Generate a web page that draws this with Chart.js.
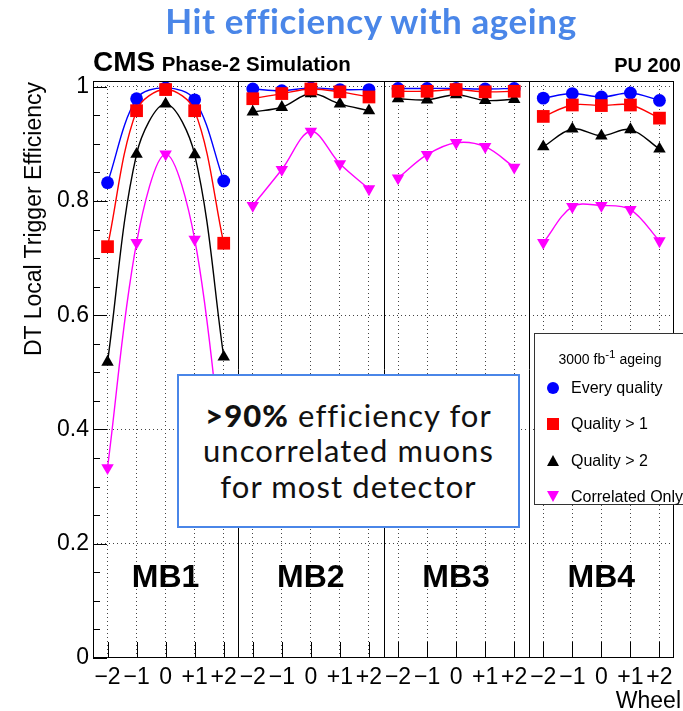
<!DOCTYPE html>
<html>
<head>
<meta charset="utf-8">
<script src="https://cdn.jsdelivr.net/npm/chart.js@4.4.1/dist/chart.umd.min.js"></script>
<style>
  html, body { margin: 0; padding: 0; background: #fff; }
  #wrap { position: relative; width: 683px; height: 711px; overflow: hidden; font-family: "Liberation Sans", Arial, sans-serif; color: #000; }
  #chart { position: absolute; left: 0; top: 0; }
  .abs { position: absolute; white-space: nowrap; }
  #title { left: 0; width: 742px; top: 0px; text-align: center; font: bold 35px/40px Lato, "Open Sans", sans-serif; letter-spacing: 0.6px; color: #4a86e8; }
  #cms { left: 93px; top: 48px; line-height: 28px; font-weight: bold; }
  #cms .big { font-size: 28px; }
  #cms .small { font-size: 20.5px; margin-left: 2px; }
  #pu { right: 2px; top: 55px; font: bold 20px/20px "Liberation Sans", Arial, sans-serif; }
  #ytitle { left: 19px; top: 362px; width: 280px; height: 28px; text-align: right; font: 23px/28px "Liberation Sans", Arial, sans-serif; transform-origin: top left; transform: rotate(-90deg); }
  #wheel { right: 2px; top: 689px; font: 23px/23px "Liberation Sans", Arial, sans-serif; }
  #note { left: 177px; top: 374px; width: 343px; height: 154px; box-sizing: border-box; border: 2px solid #4a86e8; background: #fff; display: flex; flex-direction: column; justify-content: center; align-items: center; font: 31px/35.5px Lato, "Open Sans", sans-serif; letter-spacing: 1.1px; color: #111; }
  #note b { font-weight: 900; }
  #legend { left: 534px; top: 333px; width: 152px; height: 172px; box-sizing: border-box; border: 1px solid #333; background: #fff; }
  #legend .lt { position: absolute; left: 0; width: 150px; top: 10px; text-align: center; font-size: 14px; line-height: 20px; }
  #legend .row { position: absolute; left: 36px; font-size: 16px; line-height: 20px; }
  #legend .mk { position: absolute; }
</style>
</head>
<body>
<div id="wrap">
  <canvas id="chart" width="683" height="711"></canvas>
  <div class="abs" id="title">Hit efficiency with ageing</div>
  <div class="abs" id="cms"><span class="big">CMS</span> <span class="small">Phase-2 Simulation</span></div>
  <div class="abs" id="pu">PU 200</div>
  <div class="abs" id="ytitle">DT Local Trigger Efficiency</div>
  <div class="abs" id="wheel">Wheel</div>
  <div class="abs" id="legend"></div>
  <div class="abs" id="note">
    <div><b>&gt;90%</b> efficiency for</div>
    <div>uncorrelated muons</div>
    <div>for most detector</div>
  </div>
</div>
<script>
// wheels and stations
const wheelLabels = ['\u22122', '\u22121', '0', '+1', '+2'];
const stations = ['MB1', 'MB2', 'MB3', 'MB4'];
const yLabels = ['0', '0.2', '0.4', '0.6', '0.8', '1'];
const legendTitle = '3000 fb<sup>-1</sup> ageing';

// efficiency per station (rows) and wheel (columns)
const everyQuality = [
    [0.832, 0.979, 0.998, 0.977, 0.835],
    [0.996, 0.993, 0.998, 0.995, 0.995],
    [0.997, 0.997, 0.997, 0.996, 0.997],
    [0.980, 0.988, 0.982, 0.989, 0.976]
];
const qualityGt1 = [
    [0.720, 0.958, 0.995, 0.958, 0.726],
    [0.979, 0.988, 0.996, 0.991, 0.982],
    [0.992, 0.992, 0.995, 0.991, 0.992],
    [0.948, 0.968, 0.967, 0.968, 0.945]
];
const qualityGt2 = [
    [0.518, 0.882, 0.970, 0.881, 0.527],
    [0.956, 0.964, 0.988, 0.970, 0.958],
    [0.979, 0.977, 0.986, 0.976, 0.978],
    [0.895, 0.926, 0.914, 0.925, 0.891]
];
const correlatedOnly = [
    [0.333, 0.727, 0.882, 0.733, 0.336],
    [0.792, 0.855, 0.922, 0.865, 0.821],
    [0.840, 0.881, 0.902, 0.895, 0.859],
    [0.727, 0.790, 0.792, 0.785, 0.730]
];

const series = [
    { label: 'Every quality', values: everyQuality, color: '#0000ff', style: 'circle', radius: 6.4, rotation: 0, order: 4 },
    { label: 'Quality > 2', values: qualityGt2, color: '#000000', style: 'triangle', radius: 7.2, rotation: 0, order: 3 },
    { label: 'Quality > 1', values: qualityGt1, color: '#ff0000', style: 'rect', radius: 9, rotation: 0, order: 2 },
    { label: 'Correlated Only', values: correlatedOnly, color: '#ff00ff', style: 'triangle', radius: 7.2, rotation: 180, order: 1 }
];
const legendOrder = ['Every quality', 'Quality > 1', 'Quality > 2', 'Correlated Only'];

const nWheels = wheelLabels.length;
const nUnits = stations.length * nWheels;

// one line per series and station, so curves break at the station borders
const datasets = [];
series.forEach(s => {
    stations.forEach((st, si) => {
        datasets.push({
            label: s.label + ' ' + st,
            data: s.values[si].map((v, w) => ({ x: si * nWheels + w + 0.5, y: v })),
            borderColor: s.color,
            backgroundColor: s.color,
            borderWidth: 1.4,
            tension: 0.35,
            pointStyle: s.style,
            pointRadius: s.radius,
            pointRotation: s.rotation,
            pointBackgroundColor: s.color,
            pointBorderColor: s.color,
            pointBorderWidth: 0,
            order: s.order
        });
    });
});

const isMajorY = v => Math.abs(v * 5 - Math.round(v * 5)) < 1e-6;

// ROOT-like frame: inner tick marks, pad separators, station names
const rootFrame = {
    id: 'rootFrame',
    afterDraw(chart) {
        const { ctx, chartArea: a, scales: { x, y } } = chart;
        ctx.save();
        ctx.strokeStyle = '#000';
        ctx.lineWidth = 1;
        ctx.beginPath();
        y.ticks.forEach(t => {
            const py = Math.round(y.getPixelForValue(t.value)) + 0.5;
            const len = isMajorY(t.value) ? 14 : 7;
            ctx.moveTo(a.left, py);
            ctx.lineTo(a.left + len, py);
        });
        x.ticks.forEach(t => {
            const px = Math.round(x.getPixelForValue(t.value)) + 0.5;
            ctx.moveTo(px, a.bottom);
            ctx.lineTo(px, a.bottom - 16);
        });
        for (let s = 1; s < stations.length; s++) {
            const px = Math.round(x.getPixelForValue(s * nWheels)) + 0.5;
            ctx.moveTo(px, a.top);
            ctx.lineTo(px, a.bottom);
        }
        ctx.stroke();
        ctx.strokeRect(Math.round(a.left) + 0.5, Math.round(a.top) + 0.5, Math.round(a.width) - 1, Math.round(a.height) - 1);

        ctx.fillStyle = '#000';
        ctx.font = 'bold 32px "Liberation Sans", Arial, sans-serif';
        ctx.textAlign = 'center';
        ctx.textBaseline = 'middle';
        stations.forEach((st, si) => {
            ctx.fillText(st, x.getPixelForValue(si * nWheels + nWheels / 2), y.getPixelForValue(0.14));
        });
        ctx.restore();
    }
};

const gridDotted = '#444';

new Chart(document.getElementById('chart'), {
    type: 'line',
    data: { datasets },
    options: {
        responsive: false,
        animation: false,
        layout: { padding: { left: 0, top: 81, right: 2, bottom: 0 } },
        plugins: {
            legend: { display: false },
            tooltip: { enabled: false }
        },
        scales: {
            x: {
                type: 'linear',
                min: 0,
                max: nUnits,
                afterBuildTicks: scale => {
                    const ticks = [];
                    for (let i = 0; i < nUnits; i++) ticks.push({ value: i + 0.5 });
                    scale.ticks = ticks;
                },
                afterFit: scale => { scale.height = 53; },
                ticks: {
                    autoSkip: false,
                    maxRotation: 0,
                    minRotation: 0,
                    padding: 6,
                    color: '#000',
                    font: { family: '"Liberation Sans", Arial, sans-serif', size: 23 },
                    callback: (value, index) => wheelLabels[index % nWheels]
                },
                grid: { drawTicks: false, color: gridDotted, lineWidth: 1 },
                border: { display: false, dash: [1, 3] }
            },
            y: {
                min: 0,
                max: 1.01,
                afterBuildTicks: scale => {
                    const ticks = [];
                    for (let i = 0; i <= 20; i++) ticks.push({ value: i * 0.05 });
                    scale.ticks = ticks;
                },
                afterFit: scale => { scale.width = 93; },
                ticks: {
                    autoSkip: false,
                    padding: 4,
                    color: '#000',
                    font: { family: '"Liberation Sans", Arial, sans-serif', size: 23 },
                    callback: (value, index) => (index % 4 === 0 ? yLabels[index / 4] : '')
                },
                grid: {
                    drawTicks: false,
                    lineWidth: 1,
                    color: c => (c.tick && isMajorY(c.tick.value) && c.tick.value > 0 ? gridDotted : 'rgba(0,0,0,0)')
                },
                border: { display: false, dash: [1, 3] }
            }
        }
    },
    plugins: [rootFrame]
});

// legend box
const legend = document.getElementById('legend');
legend.innerHTML = '<div class="lt">' + legendTitle + '</div>';
const markerCss = {
    'circle': c => `width:12px;height:12px;border-radius:50%;background:${c};left:12px;`,
    'rect': c => `width:12px;height:12px;background:${c};left:12px;`,
    'up': c => `width:0;height:0;border-left:6px solid transparent;border-right:6px solid transparent;border-bottom:11px solid ${c};left:12px;`,
    'down': c => `width:0;height:0;border-left:6px solid transparent;border-right:6px solid transparent;border-top:11px solid ${c};left:12px;`
};
legendOrder.forEach((name, i) => {
    const s = series.find(d => d.label === name);
    const kind = s.style === 'triangle' ? (s.rotation ? 'down' : 'up') : s.style;
    const cy = 54 + i * 36.3;
    const mk = document.createElement('div');
    mk.className = 'mk';
    mk.style.cssText = markerCss[kind](s.color) + `top:${cy - 6}px;`;
    legend.appendChild(mk);
    const row = document.createElement('div');
    row.className = 'row';
    row.style.top = (cy - 10) + 'px';
    row.textContent = name;
    legend.appendChild(row);
});
</script>
</body>
</html>
